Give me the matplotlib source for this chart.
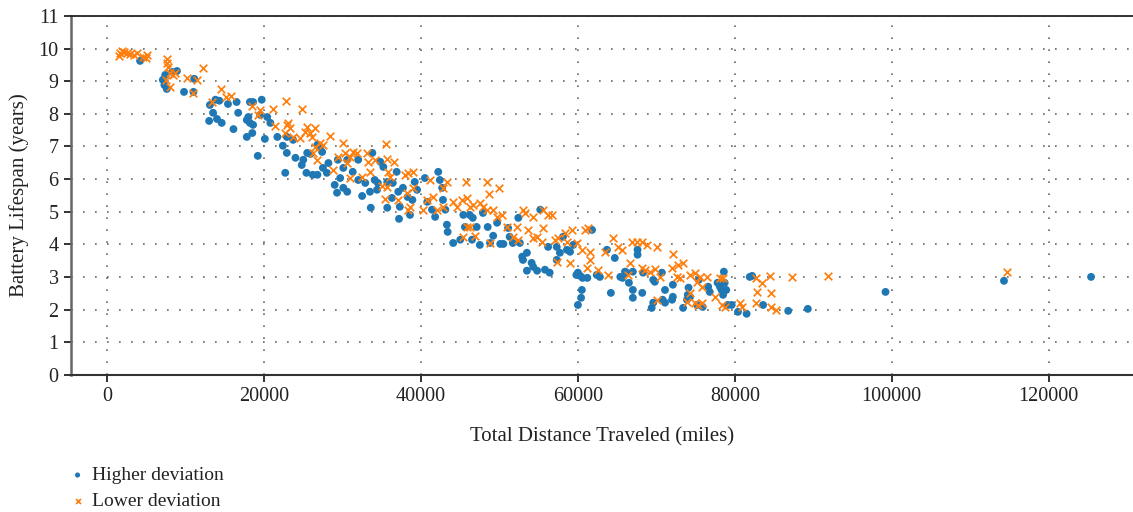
import matplotlib
matplotlib.use("Agg")
import matplotlib.pyplot as plt
import numpy as np

plt.rcParams['font.family'] = ['Liberation Serif', 'DejaVu Serif']

# Higher deviation (blue dots): distance (miles), lifespan (years)
higher_x = [4200, 7400, 7300, 7600, 8300, 8900, 7100, 11100, 9800, 11000, 13100, 13800, 14300, 15400, 16500,
            13500, 13000, 14000, 14600, 16100, 16700, 18200, 18600, 19700, 17800, 18000, 18200, 18600, 19500,
            20400, 20800, 18500, 17800, 20100, 19200, 21700, 22900, 22900, 24000, 22400, 23700, 22700, 24800,
            25000, 25500, 25400, 25900, 26200, 26800, 26800, 27100, 27400, 27500, 28000, 28200, 29000, 29300,
            29700, 30100, 30600, 30100, 29400, 30600, 31300, 32000, 32000,
            32500, 32900, 33500, 33800, 34100, 34400, 34500, 34800, 35200, 33600, 35700, 35700, 36300, 36400,
            36900, 37100, 37300, 37200, 37700, 38300, 38900, 39200, 38600, 39500, 40500, 40800, 41400, 41800,
            42200, 42400, 42700, 42800, 43100, 43300, 43400, 44100, 45000, 45400, 45600, 46200, 46500, 46600,
            47100, 47500, 47900, 48500, 48800, 49200, 49700, 50100, 50500, 51100, 51300, 51700, 52400, 52600,
            52900, 53000, 53500, 54100, 54300, 53500, 54800, 55200, 55800, 56200, 56400,
            57300, 57700, 57300, 58100, 58600, 59000, 59400, 59800, 60000, 60300, 60600, 60500, 60400, 60000,
            61200, 61800, 62400, 62800, 63700, 64200, 64700, 65400, 65700, 66200, 66000, 66500, 67000, 67000,
            67000, 67600, 67600, 68200, 68300, 69600, 69600, 69400, 69800, 70700, 71100, 70800, 71100, 72100,
            72000, 73400, 73900, 74000, 74300, 74100, 75200, 75900, 76600, 76800, 77800, 78100, 78300, 78500,
            78600, 78700, 79100, 79600, 80400, 81500, 81900, 72100, 75400, 78900,
            82200, 83600, 86800, 89300, 99200, 114300, 125400]
higher_y = [9.62, 9.19, 8.88, 8.76, 9.28, 9.31, 9.04, 9.07, 8.67, 8.67, 8.27, 8.43, 8.40, 8.30, 8.36,
            8.03, 7.78, 7.84, 7.72, 7.53, 8.03, 8.36, 8.36, 8.43, 7.81, 7.90, 7.72, 7.66, 7.97,
            7.90, 7.72, 7.41, 7.29, 7.23, 6.71, 7.29, 7.29, 6.80, 6.65, 7.02, 7.20, 6.19, 6.43,
            6.59, 6.80, 6.19, 6.77, 6.13, 6.13, 7.05, 6.95, 6.83, 6.34, 6.19, 6.49, 5.82, 5.58,
            6.03, 5.73, 5.61, 6.34, 6.59, 6.59, 6.22, 6.59, 5.97,
            5.48, 5.88, 5.61, 6.80, 5.97, 5.67, 5.88, 6.53, 6.37, 5.12, 5.12, 5.91, 5.42, 5.88,
            6.22, 5.61, 5.15, 4.78, 5.73, 5.45, 5.36, 5.91, 4.90, 5.67, 6.03, 5.30, 5.06, 4.84,
            6.22, 5.97, 5.73, 5.36, 5.06, 4.60, 4.38, 4.04, 4.14, 4.90, 4.53, 4.90, 4.14, 4.81,
            4.53, 3.98, 4.96, 4.53, 4.04, 4.26, 4.66, 4.01, 4.01, 4.50, 4.23, 4.04, 4.81, 4.04,
            3.62, 3.52, 3.74, 3.43, 3.31, 3.19, 3.19, 5.06, 3.22, 3.92, 3.13,
            3.52, 3.74, 3.92, 4.23, 3.83, 3.77, 3.98, 3.06, 3.13, 3.03, 2.97, 2.60, 2.36, 2.14,
            2.97, 4.44, 3.06, 3.00, 3.83, 2.51, 3.58, 3.00, 2.97, 3.13, 3.16, 2.82, 3.16, 2.60,
            2.36, 3.83, 3.68, 2.51, 3.13, 2.91, 2.21, 2.05, 2.85, 3.13, 2.60, 2.30, 2.21, 2.39,
            2.30, 2.05, 2.30, 2.45, 2.39, 2.67, 2.14, 2.08, 2.70, 2.54, 2.82, 2.70, 2.60, 2.45,
            3.16, 2.82, 2.14, 2.14, 1.93, 1.87, 3.00, 2.76, 2.91, 2.60,
            3.03, 2.14, 1.96, 2.02, 2.54, 2.88, 3.00]

# Lower deviation (orange crosses)
lower_x = [1700, 1900, 2200, 2500, 2900, 3400, 3800, 4600, 5000, 5100, 1500, 7600, 7600, 7800, 8000, 8400,
           7500, 8000, 8700, 10200, 11500, 11000, 12200, 14500, 15200, 15800, 13400, 18500, 19500, 19200,
           21100, 22800, 24800, 21400, 22900, 23100, 23300, 22700, 23700, 24600, 25200, 25500, 25900, 26500,
           26100, 26500, 27100, 27500, 26200, 26800, 28400, 30100, 29400, 30300, 31000, 31300, 30600, 28800,
           31000, 31900,
           33100, 33300, 34100, 33500, 32500, 35500, 35700, 35800, 36100, 35700, 36600, 35400, 35000, 38000,
           38300, 39000, 39000, 38600, 38300, 37100, 38200, 41100, 40800, 41500, 43300, 42800, 40300, 42000,
           42800, 44100, 45200, 45900, 44600, 46200, 46600, 47500, 47900, 48400, 49200, 49700, 50300, 45700,
           48400, 48700, 49900, 45900, 46900, 45400, 46200, 48800, 51000, 52200, 51700, 52400, 53000, 53300,
           54300, 53600, 54300, 54800, 55500, 55500, 56200, 55400,
           56700, 57100, 57500, 58300, 58600, 59200, 59900, 59000, 57300, 60500, 60900, 61300, 61500, 61500,
           61200, 62600, 63400, 64500, 63800, 65100, 65600, 66600, 66400, 66900, 67500, 68200, 68800, 70100,
           68200, 68500, 69200, 69800, 70500, 70100, 72100, 72000, 72700, 73400, 72600, 73000, 74300, 74900,
           75500, 76400, 75200, 75800, 74300, 73900, 74900, 75300, 75800, 77500, 78100, 78500, 78300, 78700,
           80600, 80900,
           82700, 83400, 82800, 82700, 84600, 84500, 84600, 85200, 87300, 91900, 114700]
lower_y = [9.86, 9.93, 9.90, 9.86, 9.83, 9.80, 9.86, 9.74, 9.71, 9.80, 9.77, 9.68, 9.56, 9.44, 9.25, 9.19,
           9.04, 8.82, 9.25, 9.10, 9.04, 8.64, 9.41, 8.76, 8.52, 8.55, 8.36, 8.24, 8.12, 7.97,
           8.15, 8.40, 8.15, 7.63, 7.66, 7.72, 7.57, 7.41, 7.29, 7.26, 7.44, 7.60, 7.41, 7.57,
           7.29, 6.98, 7.11, 7.05, 6.80, 6.59, 7.32, 7.11, 6.68, 6.80, 6.68, 6.83, 6.49, 6.28,
           6.03, 6.80,
           6.80, 6.53, 6.59, 6.22, 6.07, 7.08, 6.62, 6.22, 6.07, 5.76, 6.53, 5.39, 5.79, 6.13,
           6.19, 6.22, 5.73, 5.15, 5.06, 5.36, 5.58, 5.97, 5.36, 5.45, 5.91, 5.73, 5.06, 5.06,
           5.15, 5.30, 5.36, 5.42, 5.15, 5.15, 5.21, 5.27, 5.15, 5.06, 5.06, 4.84, 4.90, 5.91,
           5.91, 5.55, 5.73, 4.53, 4.26, 4.23, 4.53, 4.04, 4.53, 4.53, 4.23, 4.14, 5.06, 4.96,
           4.84, 4.44, 4.20, 4.23, 4.50, 5.06, 4.90, 4.07,
           4.90, 4.14, 4.20, 4.35, 4.07, 4.44, 4.04, 3.43, 3.46, 3.83, 4.44, 4.50, 3.77, 3.52,
           3.28, 3.22, 3.77, 4.20, 3.06, 3.92, 3.83, 3.43, 3.06, 4.07, 4.07, 4.07, 3.98, 3.92,
           3.28, 3.22, 3.16, 3.25, 3.00, 2.30, 3.71, 3.28, 3.37, 3.43, 3.00, 2.97, 3.06, 3.13,
           3.00, 3.00, 2.85, 2.70, 2.51, 2.24, 2.21, 2.14, 2.21, 2.39, 2.97, 2.97, 2.14, 2.08,
           2.21, 2.08,
           2.97, 2.82, 2.54, 2.21, 2.51, 3.03, 2.08, 1.99, 3.00, 3.03, 3.16]

x_ticks = [0, 20000, 40000, 60000, 80000, 100000, 120000]
y_ticks = list(range(0, 12))

fig = plt.figure(figsize=(11.33, 5.12), dpi=100)
ax = fig.add_axes([0.0627, 0.268, 0.937, 0.701])

ax.scatter(higher_x, higher_y, s=32, marker='o', color='#1f77b4', edgecolors='none',
           label='Higher deviation', zorder=3)
ax.scatter(lower_x, lower_y, s=30, marker='x', color='#ff7f0e', linewidths=1.25,
           label='Lower deviation', zorder=4)

ax.set_xlim(-4600, 130700)
ax.set_ylim(0, 11)
ax.set_xticks(x_ticks)
ax.set_yticks(y_ticks)

ax.grid(True, color='#666666', linestyle=(0, (1, 6.2)), linewidth=1.2)
ax.set_axisbelow(True)

ax.spines['right'].set_visible(False)
ax.spines['top'].set_color('#222222')
ax.spines['top'].set_linewidth(1.3)
ax.spines['left'].set_color('#666666')
ax.spines['left'].set_linewidth(1.8)
ax.spines['bottom'].set_color('#333333')
ax.spines['bottom'].set_linewidth(1.5)

ax.tick_params(axis='both', direction='out', length=5, width=1.3, labelsize=14.5,
               colors='#222222', pad=4)

ax.set_xlabel('Total Distance Traveled (miles)', fontsize=15, color='#222222', labelpad=15)
ax.set_ylabel('Battery Lifespan (years)', fontsize=15, color='#222222', labelpad=7)

leg = fig.legend(loc='upper left', bbox_to_anchor=(0.053, 0.104), frameon=False, fontsize=14,
                 markerscale=0.65, handletextpad=0.25, labelspacing=0.42, borderaxespad=0,
                 handlelength=1.0)
for t in leg.get_texts():
    t.set_color('#222222')

fig.savefig('out.png', dpi=100)
